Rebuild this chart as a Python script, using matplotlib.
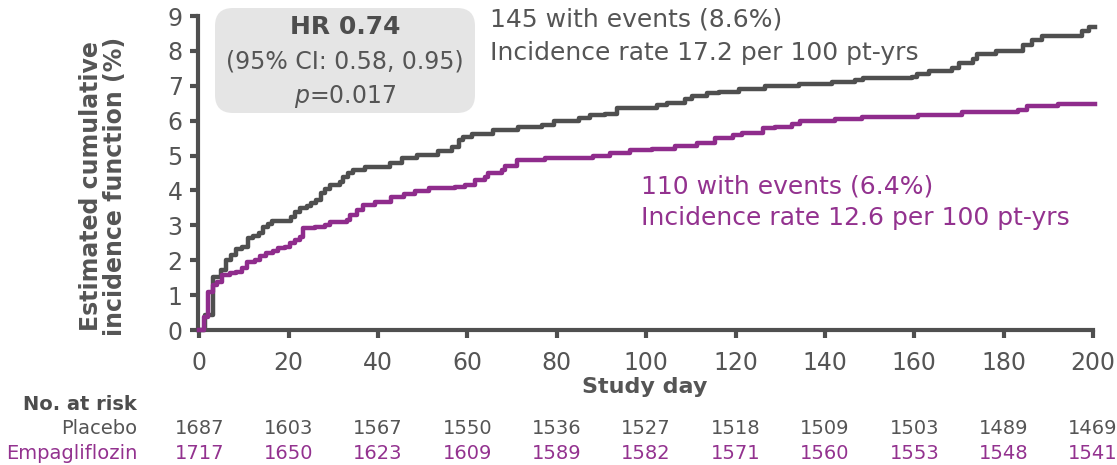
import matplotlib
matplotlib.use("Agg")
import matplotlib.pyplot as plt
from matplotlib.patches import FancyBboxPatch
from matplotlib.transforms import IdentityTransform, blended_transform_factory

plt.rcParams['font.family'] = ['DejaVu Sans']

# Cumulative incidence step data (day of event, cumulative %)
placebo_days = [0, 1.2, 3.0, 4.8, 5.9, 7.0, 8.2, 9.6, 10.8, 12.0,
                13.4, 14.3, 15.3, 16.3, 20.6, 21.4, 22.5, 24.0, 25.1, 26.2,
                27.2, 28.1, 29.2, 31.4, 32.2, 33.3, 34.4, 37.0, 42.7, 45.3,
                48.7, 53.5, 56.5, 58.0, 59.1, 61.0, 65.8, 71.4, 76.7, 79.3,
                84.9, 87.5, 90.8, 93.4, 102.4, 104.6, 108.7, 110.2, 113.6, 116.2,
                120.7, 126.6, 134.1, 141.5, 146.8, 148.6, 159.4, 160.5, 163.2, 168.4,
                169.9, 173.2, 174.0, 178.4, 184.4, 186.3, 188.5, 197.5, 199.0]
placebo_cif = [0, 0.43, 1.53, 1.72, 2.0, 2.15, 2.31, 2.37, 2.63, 2.69,
               2.79, 2.96, 3.04, 3.13, 3.25, 3.39, 3.49, 3.55, 3.65, 3.74,
               3.92, 4.03, 4.15, 4.25, 4.39, 4.49, 4.58, 4.66, 4.78, 4.92,
               5.01, 5.14, 5.25, 5.44, 5.54, 5.63, 5.73, 5.81, 5.87, 6.0,
               6.09, 6.16, 6.2, 6.35, 6.45, 6.52, 6.61, 6.7, 6.78, 6.83,
               6.92, 7.0, 7.05, 7.11, 7.16, 7.21, 7.26, 7.33, 7.42, 7.52,
               7.64, 7.78, 7.92, 7.99, 8.17, 8.31, 8.43, 8.58, 8.68]

empa_days = [0, 1.0, 2.0, 3.1, 3.9, 5.0, 6.8, 8.3, 9.5, 10.6,
             12.4, 13.5, 15.0, 16.5, 17.6, 19.1, 20.3, 21.4, 22.5, 23.2,
             25.8, 28.1, 29.2, 33.0, 33.7, 35.2, 36.7, 39.3, 42.8, 45.7,
             48.3, 51.3, 57.3, 59.5, 61.7, 64.0, 64.7, 67.7, 68.5, 71.1,
             77.4, 88.2, 91.9, 96.4, 101.3, 106.5, 111.3, 115.4, 119.5, 121.4,
             126.2, 128.9, 132.6, 134.5, 142.3, 148.2, 160.9, 170.6, 183.3, 185.2,
             192.2]
empa_cif = [0, 0.38, 1.10, 1.29, 1.38, 1.58, 1.62, 1.67, 1.77, 1.96,
            2.0, 2.12, 2.2, 2.27, 2.34, 2.37, 2.48, 2.58, 2.66, 2.91,
            2.96, 3.01, 3.1, 3.15, 3.3, 3.44, 3.58, 3.68, 3.8, 3.9,
            3.99, 4.06, 4.09, 4.15, 4.3, 4.39, 4.49, 4.58, 4.7, 4.87,
            4.92, 4.99, 5.06, 5.16, 5.2, 5.27, 5.35, 5.49, 5.59, 5.65,
            5.78, 5.83, 5.9, 6.0, 6.05, 6.11, 6.16, 6.24, 6.3, 6.42,
            6.47]

followup_end = 200.5

risk_days = [0, 20, 40, 60, 80, 100, 120, 140, 160, 180, 200]
placebo_at_risk = [1687, 1603, 1567, 1550, 1536, 1527, 1518, 1509, 1503, 1489, 1469]
empa_at_risk = [1717, 1650, 1623, 1609, 1589, 1582, 1571, 1560, 1553, 1548, 1541]

GREY_LINE = '#4f4f4f'
GREY_TEXT = '#555555'
PURPLE = '#8f2c8c'
PURPLE_TEXT = '#93328f'

W, H = 1117, 465
fig = plt.figure(figsize=(W / 100, H / 100), dpi=100)
ax = fig.add_axes([198 / W, (H - 330) / H, (1093 - 198) / W, (330 - 16) / H])


def fx(px):
    return px / W


def fy(py):
    return 1 - py / H


ax.step(placebo_days + [followup_end], placebo_cif + [placebo_cif[-1]],
        where='post', color=GREY_LINE, lw=3.2, clip_on=False, zorder=3)
ax.step(empa_days + [followup_end], empa_cif + [empa_cif[-1]],
        where='post', color=PURPLE, lw=3.2, clip_on=False, zorder=4)

ax.set_xlim(-0.3, 200)
ax.set_ylim(0, 9)
ax.set_xticks(risk_days)
ax.set_yticks(range(0, 10))
for s in ['top', 'right']:
    ax.spines[s].set_visible(False)
for s in ['left', 'bottom']:
    ax.spines[s].set_color(GREY_LINE)
    ax.spines[s].set_linewidth(3)
ax.tick_params(axis='both', direction='out', length=6, width=3,
               color=GREY_LINE, labelcolor=GREY_TEXT, labelsize=17)
ax.tick_params(axis='x', pad=9)
ax.tick_params(axis='y', pad=5)

# y-axis title
fig.text(fx(103), fy(186), 'Estimated cumulative\nincidence function (%)',
         rotation=90, ha='center', va='center', fontsize=17,
         fontweight='bold', color=GREY_TEXT, linespacing=1.05)

# x-axis title
fig.text(fx(645), fy(387), 'Study day', ha='center', va='center',
         fontsize=16, fontweight='bold', color=GREY_TEXT)

# hazard ratio box
box = FancyBboxPatch((215, H - 113), 260, 105,
                     boxstyle='round,pad=0,rounding_size=18',
                     transform=IdentityTransform(), facecolor='#e5e5e5',
                     edgecolor='none', zorder=1)
fig.add_artist(box)
fig.text(fx(345), fy(27), 'HR 0.74', ha='center', va='center', fontsize=18,
         fontweight='bold', color='#4d4d4d')
fig.text(fx(345), fy(62), '(95% CI: 0.58, 0.95)', ha='center', va='center',
         fontsize=17, color=GREY_TEXT)
fig.text(fx(345), fy(96), r'$\it{p}$=0.017', ha='center', va='center',
         fontsize=17, color=GREY_TEXT)

# event annotations
fig.text(fx(490), fy(20), '145 with events (8.6%)', ha='left', va='center',
         fontsize=18, color=GREY_TEXT)
fig.text(fx(490), fy(53), 'Incidence rate 17.2 per 100 pt-yrs', ha='left',
         va='center', fontsize=18, color=GREY_TEXT)
fig.text(fx(641), fy(186), '110 with events (6.4%)', ha='left', va='center',
         fontsize=18, color=PURPLE_TEXT)
fig.text(fx(641), fy(218), 'Incidence rate 12.6 per 100 pt-yrs', ha='left',
         va='center', fontsize=18, color=PURPLE_TEXT)

# number-at-risk table
fig.text(fx(137), fy(404), 'No. at risk', ha='right', va='center',
         fontsize=14, fontweight='bold', color='#4d4d4d')
fig.text(fx(137), fy(428), 'Placebo', ha='right', va='center',
         fontsize=14, color=GREY_TEXT)
fig.text(fx(137), fy(453), 'Empagliflozin', ha='right', va='center',
         fontsize=14, color=PURPLE_TEXT)
tr = blended_transform_factory(ax.transData, fig.transFigure)
for d, n_p, n_e in zip(risk_days, placebo_at_risk, empa_at_risk):
    ax.text(d, fy(428), str(n_p), transform=tr, ha='center', va='center',
            fontsize=14, color=GREY_TEXT, clip_on=False)
    ax.text(d, fy(453), str(n_e), transform=tr, ha='center', va='center',
            fontsize=14, color=PURPLE_TEXT, clip_on=False)

fig.savefig('out.png', dpi=100)
